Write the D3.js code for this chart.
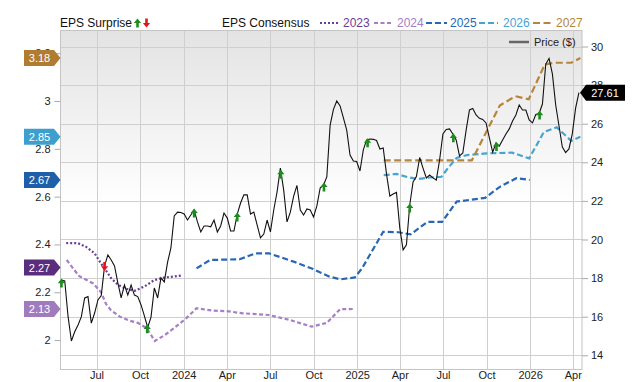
<!DOCTYPE html>
<html><head><meta charset="utf-8">
<script src="https://cdn.jsdelivr.net/npm/d3@7"></script>
<style>
body{margin:0;background:#fff}
svg{display:block}
text{font-family:"Liberation Sans",Arial,Helvetica,sans-serif}
</style>
</head><body>
<svg id="chart" width="640" height="382"></svg>
<script>
// ---------------- DATA ----------------
const priceStart = "2023-04-18"; // weekly closes from this date
const prices = [17.90,17.85,16.00,14.74,15.22,15.57,16.00,16.97,17.04,15.67,
16.19,16.87,17.10,18.63,19.20,18.94,18.63,17.75,16.97,17.64,
17.12,17.64,17.12,17.04,16.61,16.04,15.44,15.98,17.49,16.97,
18.01,17.80,18.83,19.56,21.22,21.42,21.40,21.32,21.01,21.27,
21.53,20.91,20.39,20.70,20.70,20.66,21.01,20.39,20.70,21.37,
21.11,20.44,20.44,21.32,21.89,22.31,22.31,21.32,21.42,20.75,
20.08,20.28,21.01,20.39,21.53,22.46,23.70,22.56,20.91,21.42,
22.25,22.80,21.53,21.27,21.58,21.53,21.17,21.74,22.67,22.82,
23.24,25.93,26.74,27.18,26.92,26.30,25.67,24.38,24.07,24.04,
23.55,24.64,25.16,25.21,25.19,25.13,24.69,24.74,23.39,22.25,
22.36,22.44,20.60,19.46,19.72,21.79,22.98,23.26,24.25,23.70,
23.19,23.34,23.19,23.08,24.12,25.47,25.70,25.73,25.47,25.16,
24.33,24.48,25.67,26.71,26.79,26.45,26.28,26.22,26.04,25.26,
24.53,25.00,24.84,25.16,25.47,25.73,26.14,26.45,26.97,26.71,
26.71,26.19,26.04,26.48,26.53,27.02,29.09,29.38,28.58,26.97,
25.88,24.79,24.50,24.69,25.47,26.81,27.61];

const eps2023 = [["2023-04-28",2.406],["2023-05-23",2.405],["2023-06-09",2.39],["2023-06-27",2.363],["2023-07-08",2.328],["2023-07-18",2.30],["2023-08-01",2.258],["2023-08-15",2.232],["2023-08-30",2.216],["2023-09-20",2.206],["2023-10-11",2.225],["2023-10-31",2.251],["2023-11-22",2.262],["2023-12-09",2.265],["2023-12-29",2.27]];
const eps2024 = [["2023-04-29",2.335],["2023-05-25",2.268],["2023-06-24",2.237],["2023-07-11",2.199],["2023-07-21",2.151],["2023-07-31",2.126],["2023-08-19",2.098],["2023-09-09",2.081],["2023-09-26",2.072],["2023-10-15",2.050],["2023-11-01",1.996],["2023-11-22",2.021],["2023-12-13",2.052],["2024-01-06",2.091],["2024-01-28",2.133],["2024-03-03",2.123],["2024-03-31",2.121],["2024-05-05",2.112],["2024-06-28",2.105],["2024-08-12",2.084],["2024-09-27",2.056],["2024-10-29",2.072],["2024-11-26",2.129],["2024-12-24",2.13]];
const eps2025 = [["2024-01-28",2.300],["2024-02-26",2.335],["2024-04-28",2.338],["2024-06-01",2.363],["2024-06-29",2.363],["2024-08-23",2.326],["2024-09-30",2.297],["2024-11-04",2.265],["2024-11-27",2.254],["2024-12-27",2.262],["2025-01-11",2.299],["2025-02-25",2.453],["2025-03-29",2.451],["2025-04-24",2.442],["2025-05-29",2.494],["2025-06-29",2.494],["2025-07-30",2.579],["2025-09-28",2.595],["2025-10-29",2.641],["2025-12-03",2.677],["2025-12-31",2.67]];
const eps2026 = [["2025-02-26",2.690],["2025-03-25",2.695],["2025-04-19",2.681],["2025-05-09",2.674],["2025-06-03",2.680],["2025-06-28",2.683],["2025-07-12",2.720],["2025-07-30",2.762],["2025-08-21",2.774],["2025-10-01",2.781],["2025-11-24",2.784],["2025-12-30",2.760],["2026-01-30",2.870],["2026-02-26",2.890],["2026-03-29",2.833],["2026-04-17",2.85]];
const eps2027 = [["2025-02-26",2.752],["2025-08-31",2.752],["2025-10-01",2.872],["2025-10-29",2.981],["2025-12-01",3.020],["2025-12-29",3.007],["2026-02-01",3.153],["2026-02-21",3.160],["2026-03-29",3.160],["2026-04-17",3.18]];

const seriesNames = ["2023","2024","2025","2026","2027"];
const seriesData = [eps2023, eps2024, eps2025, eps2026, eps2027];

const surpriseDates = ["2023-04-18","2023-07-18","2023-10-16","2024-01-23","2024-04-23","2024-07-24","2024-10-23","2025-01-23","2025-04-22","2025-07-23","2025-10-22","2026-01-21"];
const surpriseTypes = ["up","down","up","up","up","up","up","up","up","up","up","up"];

const xTickDates = ["2023-07-01","2023-10-01","2024-01-01","2024-04-01","2024-07-01","2024-10-01","2025-01-01","2025-04-01","2025-07-01","2025-10-01","2026-01-01","2026-04-01"];
const xTickLabels = ["Jul","Oct","2024","Apr","Jul","Oct","2025","Apr","Jul","Oct","2026","Apr"];
const epsTicks = [2,2.2,2.4,2.6,2.8,3,3.2];
const priceTicks = [14,16,18,20,22,24,26,28,30];

// ---------------- STYLE / LAYOUT ----------------
const styles = {
  "2023": {color:"#6a3d96", flag:"#5b2d7e", dash:"2,2", width:2.2},
  "2024": {color:"#a57fc8", flag:"#a07cbf", dash:"4,2.5", width:2.2},
  "2025": {color:"#2867b4", flag:"#1f5ea9", dash:"6,3", width:2.2},
  "2026": {color:"#44a4d4", flag:"#3d9fce", dash:"6,3", width:2.2},
  "2027": {color:"#b5853c", flag:"#b07c31", dash:"7,3.5", width:2.2}
};
const flagShift = {"2023": -8};
const L = 60.5, R = 582, T = 30, B = 369;
const parse = d3.timeParse("%Y-%m-%d");

const svg = d3.select("#chart");
const x = d3.scaleTime().domain([parse("2023-04-16"), new Date(2026,3,20,12)]).range([L, R]);
const yP = d3.scaleLinear().domain([13.29, 30.855]).range([B, T]);
const yE = d3.scaleLinear().domain([1.879, 3.297]).range([B, T]);

const defs = svg.append("defs");
const grad = defs.append("linearGradient").attr("id","bg").attr("x1",0).attr("y1",0).attr("x2",0).attr("y2",1);
grad.append("stop").attr("offset","0%").attr("stop-color","#e3e3e3");
grad.append("stop").attr("offset","52%").attr("stop-color","#ffffff");
grad.append("stop").attr("offset","100%").attr("stop-color","#ffffff");
defs.append("clipPath").attr("id","clip").append("rect").attr("x",L).attr("y",T).attr("width",R-L).attr("height",B-T);

svg.append("rect").attr("x",L).attr("y",T).attr("width",R-L).attr("height",B-T).attr("fill","url(#bg)");

// grid
const grid = svg.append("g").attr("stroke","#cfcfcf").attr("stroke-width",1);
grid.selectAll("line.v").data(xTickDates).join("line").attr("class","v")
  .attr("x1",d=>Math.round(x(parse(d)))+0.5).attr("x2",d=>Math.round(x(parse(d)))+0.5).attr("y1",T).attr("y2",B);
grid.selectAll("line.h").data(priceTicks).join("line").attr("class","h")
  .attr("x1",L).attr("x2",R).attr("y1",d=>Math.round(yP(d))+0.5).attr("y2",d=>Math.round(yP(d))+0.5);
svg.append("rect").attr("x",L).attr("y",T+0.5).attr("width",R-L).attr("height",B-T).attr("fill","none").attr("stroke","#c4c4c4");

// axes
const axL = svg.append("g").attr("transform",`translate(${L},0)`)
  .call(d3.axisLeft(yE).tickValues(epsTicks).tickSize(6).tickPadding(4).tickFormat(d3.format("~g")));
const axR = svg.append("g").attr("transform",`translate(${R},0)`)
  .call(d3.axisRight(yP).tickValues(priceTicks).tickSize(6).tickPadding(3).tickFormat(d3.format("d")));
const axB = svg.append("g").attr("transform",`translate(0,${B})`)
  .call(d3.axisBottom(x).tickValues(xTickDates.map(parse)).tickSize(0).tickPadding(2).tickFormat((d,i)=>xTickLabels[i]));
[axL,axR,axB].forEach(a=>{
  a.select(".domain").remove();
  a.selectAll(".tick line").attr("stroke","#aaa");
  a.selectAll(".tick text").attr("fill","#222").style("font-size","11px").style("font-family",'"Liberation Sans",Arial,sans-serif');
});

// plot content
const plot = svg.append("g").attr("clip-path","url(#clip)");
const lineE = d3.line().x(d=>x(parse(d[0]))).y(d=>yE(d[1]));
seriesNames.forEach((n,i)=>{
  const s = styles[n];
  plot.append("path").datum(seriesData[i]).attr("d",lineE)
    .attr("fill","none").attr("stroke",s.color).attr("stroke-width",s.width)
    .attr("stroke-dasharray",s.dash);
});

const start = parse(priceStart);
const priceData = prices.map((p,i)=>({d:d3.timeDay.offset(start,7*i), p}));
plot.append("path").datum(priceData)
  .attr("d",d3.line().x(d=>x(d.d)).y(d=>yP(d.p)))
  .attr("fill","none").attr("stroke","#111").attr("stroke-width",1.1);

function priceAt(date){
  const bis = d3.bisector(d=>d.d).left;
  let i = bis(priceData, date);
  if(i<=0) return priceData[0].p;
  if(i>=priceData.length) return priceData[priceData.length-1].p;
  const a = priceData[i-1], b = priceData[i];
  const t = (date-a.d)/(b.d-a.d);
  return a.p + t*(b.p-a.p);
}
function arrowPath(cx, tipY, up){
  const s = up?1:-1;
  const pts = [[0,0],[-3.6,4.6],[-1.3,4.6],[-1.3,9],[1.3,9],[1.3,4.6],[3.6,4.6]];
  return "M"+pts.map(p=>[cx+p[0], tipY+s*p[1]].join(",")).join("L")+"Z";
}
svg.append("g").selectAll("path").data(surpriseDates).join("path")
  .attr("d",(d,i)=>{
    const dt = parse(d), px = x(dt), py = yP(priceAt(dt));
    return surpriseTypes[i]==="up" ? arrowPath(px, py-1.5, true) : arrowPath(px, py+5, false);
  })
  .attr("fill",(d,i)=>surpriseTypes[i]==="up"?"#1c8c1c":"#e5141c");

// left flags
const flagG = svg.append("g");
seriesNames.forEach((n,i)=>{
  const arr = seriesData[i], v = arr[arr.length-1][1];
  const cy = yE(v) + (flagShift[n]||0);
  const x0 = 24, x1 = 54, x2 = 60.5, h = 8;
  flagG.append("path").attr("d",`M${x0},${cy-h}L${x1},${cy-h}L${x2},${cy}L${x1},${cy+h}L${x0},${cy+h}Z`).attr("fill",styles[n].flag);
  flagG.append("text").attr("x",(x0+x1)/2+0.5).attr("y",cy+4).attr("text-anchor","middle")
    .attr("fill","#fff").style("font-size","11px").text(d3.format(".2f")(v));
});

// price flag
const last = priceData[priceData.length-1];
const py = yP(last.p);
svg.append("path").attr("d",`M580,${py}L586,${py-8}L625,${py-8}L625,${py+8}L586,${py+8}Z`).attr("fill","#000");
svg.append("text").attr("x",605).attr("y",py+4).attr("text-anchor","middle").attr("fill","#fff").style("font-size","11px").text(d3.format(".2f")(last.p));

// price legend inside plot
svg.append("line").attr("x1",509).attr("x2",529).attr("y1",42).attr("y2",42).attr("stroke","#666").attr("stroke-width",2.5);
svg.append("text").attr("x",534).attr("y",46).attr("fill","#222").style("font-size","11px").text("Price ($)");

// top legend
const lg = svg.append("g").style("font-size","12px");
lg.append("text").attr("x",60).attr("y",27).attr("fill","#111").text("EPS Surprise");
lg.append("path").attr("d",arrowPath(137.5,18.5,true)).attr("fill","#1c8c1c");
lg.append("path").attr("d",arrowPath(146.5,27.5,false)).attr("fill","#e5141c");
lg.append("text").attr("x",222).attr("y",27).attr("fill","#111").text("EPS Consensus");
const legPos = [[320,338,343],[374,393,397],[426,447,450],[479,498,503],[533,553,556]];
seriesNames.forEach((n,i)=>{
  const p = legPos[i], s = styles[n];
  lg.append("line").attr("x1",p[0]).attr("x2",p[1]).attr("y1",23).attr("y2",23)
    .attr("stroke",s.color).attr("stroke-width",s.width).attr("stroke-dasharray",s.dash);
  lg.append("text").attr("x",p[2]).attr("y",27).attr("fill",s.color).text(n);
});
</script>
</body></html>
